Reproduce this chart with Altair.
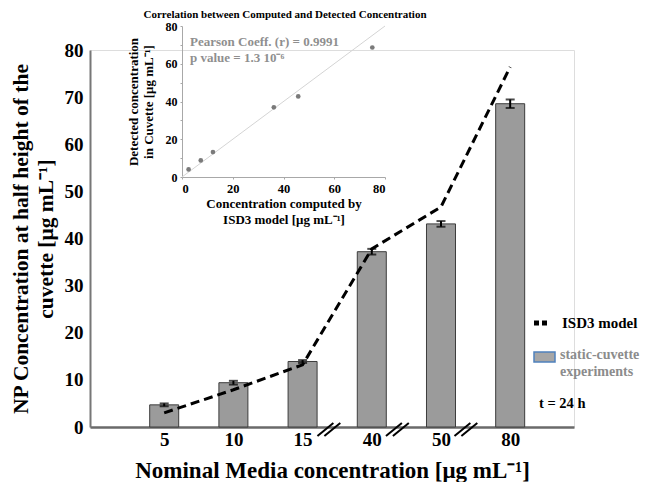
import altair as alt
import pandas as pd

# ---------------- data ----------------
categories = ["5", "10", "15", "40", "50", "80"]
positions = [1, 2, 3, 4, 5, 6]
measured = [4.7, 9.4, 13.9, 37.2, 43.1, 68.6]
errors = [0.3, 0.4, 0.3, 0.6, 0.6, 0.9]
model = [3.0, 7.9, 13.2, 37.8, 46.7, 76.4]
break_positions = [3.38, 4.37, 5.36]

inset_computed = [2.6, 7.4, 12.2, 36.2, 45.8, 75.0]
inset_detected = [4.0, 8.8, 13.2, 36.9, 42.7, 68.6]
identity_line = [0, 80]

y_title = ["NP Concentration at half height of the", "cuvette [μg mL⁻¹]"]
x_title = "Nominal Media concentration [μg mL⁻¹]"
inset_title = "Correlation between Computed and Detected Concentration"
inset_x_title = ["Concentration computed by", "ISD3 model [μg mL⁻¹]"]
inset_y_title = ["Detected concentration", "in Cuvette [μg mL⁻¹]"]
pearson_text = "Pearson Coeff. (r) = 0.9991"
pvalue_text = "p value = 1.3 10⁻⁶"
legend_model = "ISD3 model"
legend_exp = ["static-cuvette", "experiments"]
time_text = "t = 24 h"

FONT = "Liberation Serif"

main_df = pd.DataFrame({"pos": positions, "cat": categories, "measured": measured,
                        "err": errors, "model": model})

xscale = alt.Scale(domain=[0, 6.85], nice=False, zero=False)
yscale = alt.Scale(domain=[0, 80], nice=False)
label_expr = "[" + ",".join(f"'{c}'" for c in categories) + "][datum.value - 1]"

x_axis = alt.Axis(values=positions, labelExpr=label_expr, title=x_title, grid=False, ticks=False,
                  domainColor="#6a6a6a", domainWidth=2.5, labelFontSize=19, labelFontWeight="bold",
                  labelColor="black", labelPadding=3, labelFont=FONT,
                  titleFont=FONT, titleFontSize=23, titleFontWeight="bold", titleColor="black",
                  titlePadding=10)
y_axis = alt.Axis(values=list(range(0, 90, 10)), title=y_title, grid=False, ticks=False,
                  domainColor="#777777", domainWidth=2, labelFontSize=19, labelFontWeight="bold",
                  labelColor="black", labelPadding=7, labelFont=FONT,
                  titleFont=FONT, titleFontSize=21.5, titleFontWeight="bold", titleColor="black",
                  titlePadding=7, titleLineHeight=25)

base = alt.Chart(main_df)

bars = base.mark_bar(size=29, color="#9b9b9b", stroke="#3c3c3c", strokeWidth=1).encode(
    x=alt.X("pos:Q", scale=xscale, axis=x_axis),
    y=alt.Y("measured:Q", scale=yscale, axis=y_axis),
)

err_base = base.transform_calculate(lo="datum.measured - datum.err", hi="datum.measured + datum.err")
err_rule = err_base.mark_rule(color="black", strokeWidth=2).encode(
    x=alt.X("pos:Q", scale=xscale), y=alt.Y("lo:Q", scale=yscale), y2="hi:Q")
cap_lo = err_base.mark_tick(orient="horizontal", size=9, thickness=2, color="black").encode(
    x=alt.X("pos:Q", scale=xscale), y=alt.Y("lo:Q", scale=yscale))
cap_hi = err_base.mark_tick(orient="horizontal", size=9, thickness=2, color="black").encode(
    x=alt.X("pos:Q", scale=xscale), y=alt.Y("hi:Q", scale=yscale))

model_line = base.mark_line(color="black", strokeWidth=3, strokeDash=[9, 5]).encode(
    x=alt.X("pos:Q", scale=xscale), y=alt.Y("model:Q", scale=yscale))

breaks_df = pd.DataFrame({"bp": break_positions})
break_layers = []
for off in (-0.05, 0.05):
    break_layers.append(
        alt.Chart(breaks_df).transform_calculate(
            xa=f"datum.bp - 0.115 + {off}", xb=f"datum.bp + 0.115 + {off}"
        ).mark_rule(color="black", strokeWidth=2).encode(
            x=alt.X("xa:Q", scale=xscale), x2="xb:Q",
            y=alt.value(386), y2=alt.value(373))
    )


def label(text, x, y, size, color="black", align="left", baseline="middle"):
    return alt.Chart(pd.DataFrame({"t": [text]})).mark_text(
        font=FONT, fontWeight="bold", fontSize=size, color=color, align=align, baseline=baseline
    ).encode(x=alt.value(x), y=alt.value(y), text="t:N")


legend_sym = alt.Chart(pd.DataFrame({"k": [0]})).mark_rule(
    color="black", strokeWidth=5, strokeDash=[5, 3]).encode(
    x=alt.value(444), x2=alt.value(460), y=alt.value(273))
legend_rect = alt.Chart(pd.DataFrame({"k": [0]})).mark_rect(
    fill="#a6a6a6", stroke="#4f81bd", strokeWidth=1.5).encode(
    x=alt.value(444), x2=alt.value(465), y=alt.value(302), y2=alt.value(312))

annotations = [
    label(legend_model, 472, 273, 15),
    label(legend_exp[0], 470, 305, 14, color="#8c8c8c"),
    label(legend_exp[1], 470, 322, 14, color="#8c8c8c"),
    label(time_text, 449, 354, 14.5),
    label(inset_title, 195, -41, 11, align="center", baseline="top"),
    label(pearson_text, 100, -8, 13, color="#8f8f8f"),
    label(pvalue_text, 100, 8, 13, color="#8f8f8f"),
]

main = alt.layer(bars, model_line, err_rule, cap_lo, cap_hi, *break_layers,
                 legend_sym, legend_rect, *annotations)

# ---------------- inset ----------------
inset_df = pd.DataFrame({"computed": inset_computed, "detected": inset_detected})
ident_df = pd.DataFrame({"a": identity_line})
ix = alt.Scale(domain=[0, 80], range=[92, 295], nice=False)
iy = alt.Scale(domain=[0, 80], range=[127, -24], nice=False)

ix_axis = alt.Axis(orient="bottom", offset=-250, values=[0, 20, 40, 60, 80], grid=False,
                   domainColor="#a8a8a8", domainWidth=1, tickColor="#a8a8a8", tickSize=2,
                   labelFont=FONT, labelFontSize=12.5, labelFontWeight="bold", labelColor="black",
                   labelPadding=3, title=inset_x_title, titleFont=FONT, titleFontSize=13,
                   titleFontWeight="bold", titleColor="black", titlePadding=3, titleLineHeight=16)
iy_axis = alt.Axis(orient="left", offset=-92, values=list(range(0, 90, 10)),
                   labelExpr="datum.value % 20 == 0 ? datum.label : ''", grid=False,
                   domainColor="#a8a8a8", domainWidth=1, tickColor="#a8a8a8", tickSize=2,
                   labelFont=FONT, labelFontSize=12, labelFontWeight="bold", labelColor="black",
                   labelPadding=3, title=inset_y_title, titleFont=FONT, titleFontSize=13,
                   titleFontWeight="bold", titleColor="black", titlePadding=10, titleLineHeight=15)

ident = alt.Chart(ident_df).mark_line(color="#d4d4d4", strokeWidth=1).encode(
    x=alt.X("a:Q", scale=ix, axis=ix_axis), y=alt.Y("a:Q", scale=iy, axis=iy_axis))
pts = alt.Chart(inset_df).mark_circle(size=22, color="#7a7a7a", opacity=1).encode(
    x=alt.X("computed:Q", scale=ix), y=alt.Y("detected:Q", scale=iy))

inset = alt.layer(ident, pts)

chart = alt.layer(main, inset).resolve_scale(
    x="independent", y="independent"
).properties(
    width=484, height=377,
    padding={"left": 82, "top": 42, "right": 66, "bottom": 55},
    autosize=alt.AutoSizeParams(type="none"),
).configure_view(stroke=None).configure(font=FONT, background="white")

chart.save("out.html", embed_options={"renderer": "svg", "actions": False})
